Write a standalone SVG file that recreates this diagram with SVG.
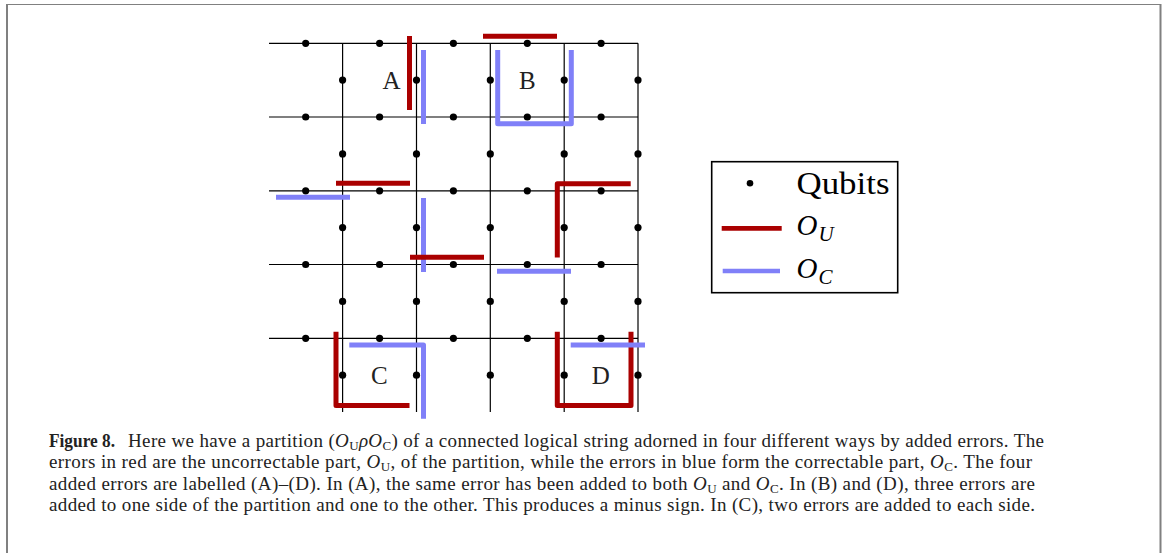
<svg xmlns="http://www.w3.org/2000/svg" width="1165" height="553" viewBox="0 0 1165 553">
<style>
.g{stroke:#000;stroke-width:1.2;fill:none}
.q{fill:#000}
.r{stroke:#aa0000;stroke-width:5;fill:none;stroke-linejoin:round}
.b{stroke:#8080f8;stroke-width:5;fill:none;stroke-linejoin:round}
.lbl{font-family:"Liberation Serif",serif;font-size:25px;fill:#222;text-anchor:middle}
.leg{font-family:"Liberation Serif",serif;fill:#000}
.cap{font-family:"Liberation Serif",serif;font-size:19px;fill:#222}
.sub{font-size:13px}
</style>
<defs>
<circle id="dot" r="3.6" class="q"/>
</defs>
<rect width="1165" height="553" fill="#fff"/>
<g id="frame" stroke="#808080" fill="none">
<line x1="6" y1="4.5" x2="1161" y2="4.5" stroke-width="1.2"/>
<line x1="7" y1="4" x2="7" y2="553" stroke-width="2"/>
<line x1="1160.5" y1="4" x2="1160.5" y2="553" stroke-width="2"/>
</g>
<g id="grid" class="g">
<line x1="269" y1="43.3" x2="638" y2="43.3"/>
<line x1="269" y1="117" x2="638" y2="117"/>
<line x1="269" y1="190.8" x2="638" y2="190.8"/>
<line x1="269" y1="264.5" x2="638" y2="264.5"/>
<line x1="269" y1="338.3" x2="638" y2="338.3"/>
<line x1="342.6" y1="43.3" x2="342.6" y2="412"/>
<line x1="416.5" y1="43.3" x2="416.5" y2="412"/>
<line x1="490.3" y1="43.3" x2="490.3" y2="412"/>
<line x1="564.2" y1="43.3" x2="564.2" y2="412"/>
<line x1="638" y1="43.3" x2="638" y2="412"/>
</g>
<g id="qubits">
<use href="#dot" x="305.7" y="43.3"/><use href="#dot" x="379.6" y="43.3"/><use href="#dot" x="453.4" y="43.3"/><use href="#dot" x="527.3" y="43.3"/><use href="#dot" x="601.1" y="43.3"/>
<use href="#dot" x="305.7" y="117"/><use href="#dot" x="379.6" y="117"/><use href="#dot" x="453.4" y="117"/><use href="#dot" x="527.3" y="117"/><use href="#dot" x="601.1" y="117"/>
<use href="#dot" x="305.7" y="190.8"/><use href="#dot" x="379.6" y="190.8"/><use href="#dot" x="453.4" y="190.8"/><use href="#dot" x="527.3" y="190.8"/><use href="#dot" x="601.1" y="190.8"/>
<use href="#dot" x="305.7" y="264.5"/><use href="#dot" x="379.6" y="264.5"/><use href="#dot" x="453.4" y="264.5"/><use href="#dot" x="527.3" y="264.5"/><use href="#dot" x="601.1" y="264.5"/>
<use href="#dot" x="305.7" y="338.3"/><use href="#dot" x="379.6" y="338.3"/><use href="#dot" x="453.4" y="338.3"/><use href="#dot" x="527.3" y="338.3"/><use href="#dot" x="601.1" y="338.3"/>
<use href="#dot" x="342.6" y="80.1"/><use href="#dot" x="416.5" y="80.1"/><use href="#dot" x="490.3" y="80.1"/><use href="#dot" x="564.2" y="80.1"/><use href="#dot" x="638" y="80.1"/>
<use href="#dot" x="342.6" y="153.9"/><use href="#dot" x="416.5" y="153.9"/><use href="#dot" x="490.3" y="153.9"/><use href="#dot" x="564.2" y="153.9"/><use href="#dot" x="638" y="153.9"/>
<use href="#dot" x="342.6" y="227.6"/><use href="#dot" x="416.5" y="227.6"/><use href="#dot" x="490.3" y="227.6"/><use href="#dot" x="564.2" y="227.6"/><use href="#dot" x="638" y="227.6"/>
<use href="#dot" x="342.6" y="301.4"/><use href="#dot" x="416.5" y="301.4"/><use href="#dot" x="490.3" y="301.4"/><use href="#dot" x="564.2" y="301.4"/><use href="#dot" x="638" y="301.4"/>
<use href="#dot" x="342.6" y="375.2"/><use href="#dot" x="416.5" y="375.2"/><use href="#dot" x="490.3" y="375.2"/><use href="#dot" x="564.2" y="375.2"/><use href="#dot" x="638" y="375.2"/>
</g>
<g id="errors">
<g id="errA">
<line class="r" x1="409.5" y1="36" x2="409.5" y2="110"/>
<line class="b" x1="423.5" y1="50" x2="423.5" y2="124"/>
<text class="lbl" x="391.5" y="88.5">A</text>
</g>
<g id="errB">
<line class="r" x1="483" y1="36.3" x2="557" y2="36.3"/>
<path class="b" d="M497.7,50 V123.7 H571.3 V50"/>
<text class="lbl" x="527.3" y="88.5">B</text>
</g>
<g id="errMid">
<line class="r" x1="336" y1="183.3" x2="410" y2="183.3"/>
<line class="b" x1="276" y1="197.3" x2="350" y2="197.3"/>
<line class="b" x1="423.5" y1="198" x2="423.5" y2="272"/>
<line class="r" x1="410" y1="257.3" x2="484" y2="257.3"/>
<path class="r" d="M557.3,257.5 V183.8 H630.7"/>
<line class="b" x1="497" y1="271.3" x2="571" y2="271.3"/>
</g>
<g id="errC">
<path class="r" d="M336,331.7 V405.5 H409.5"/>
<path class="b" d="M349.3,345 H423.5 V418.8"/>
<text class="lbl" x="379.3" y="383.5">C</text>
</g>
<g id="errD">
<path class="r" d="M557.3,331.7 V405.5 H631 V331.7"/>
<line class="b" x1="570.7" y1="345" x2="645" y2="345"/>
<text class="lbl" x="600.7" y="383.5">D</text>
</g>
</g>
<g id="legend">
<rect x="711.7" y="161.7" width="186" height="131" fill="#fff" stroke="#000" stroke-width="1.6"/>
<circle cx="750" cy="183.3" r="3.3" fill="#000"/>
<text class="leg" x="796.5" y="193.5" font-size="31" textLength="93" lengthAdjust="spacingAndGlyphs">Qubits</text>
<line x1="721.7" y1="228.3" x2="781.7" y2="228.3" stroke="#aa0000" stroke-width="4.7"/>
<text class="leg" x="796.5" y="235" font-size="29"><tspan font-style="italic">O</tspan><tspan font-style="italic" font-size="21" dx="1" dy="5.5">U</tspan></text>
<line x1="722.7" y1="271" x2="780" y2="271" stroke="#8080f8" stroke-width="4.7"/>
<text class="leg" x="796.5" y="278.3" font-size="29"><tspan font-style="italic">O</tspan><tspan font-style="italic" font-size="21" dx="1" dy="5.5">C</tspan></text>
</g>
<g id="caption" class="cap">
<text x="49" y="447" font-weight="bold" textLength="66" lengthAdjust="spacingAndGlyphs">Figure 8.</text>
<text x="128" y="447" textLength="916" lengthAdjust="spacing">Here we have a partition (<tspan font-style="italic">O</tspan><tspan class="sub" dy="3">U</tspan><tspan font-style="italic" dy="-3">ρO</tspan><tspan class="sub" dy="3">C</tspan><tspan dy="-3">) of a connected logical string adorned in four different ways by added errors. The</tspan></text>
<text x="49" y="468.3" textLength="983" lengthAdjust="spacing">errors in red are the uncorrectable part, <tspan font-style="italic">O</tspan><tspan class="sub" dy="3">U</tspan><tspan dy="-3">, of the partition, while the errors in blue form the correctable part, </tspan><tspan font-style="italic">O</tspan><tspan class="sub" dy="3">C</tspan><tspan dy="-3">. The four</tspan></text>
<text x="49" y="489.5" textLength="986" lengthAdjust="spacing">added errors are labelled (A)–(D). In (A), the same error has been added to both <tspan font-style="italic">O</tspan><tspan class="sub" dy="3">U</tspan><tspan dy="-3"> and </tspan><tspan font-style="italic">O</tspan><tspan class="sub" dy="3">C</tspan><tspan dy="-3">. In (B) and (D), three errors are</tspan></text>
<text x="49" y="510.5" textLength="986" lengthAdjust="spacing">added to one side of the partition and one to the other. This produces a minus sign. In (C), two errors are added to each side.</text>
</g>
</svg>
